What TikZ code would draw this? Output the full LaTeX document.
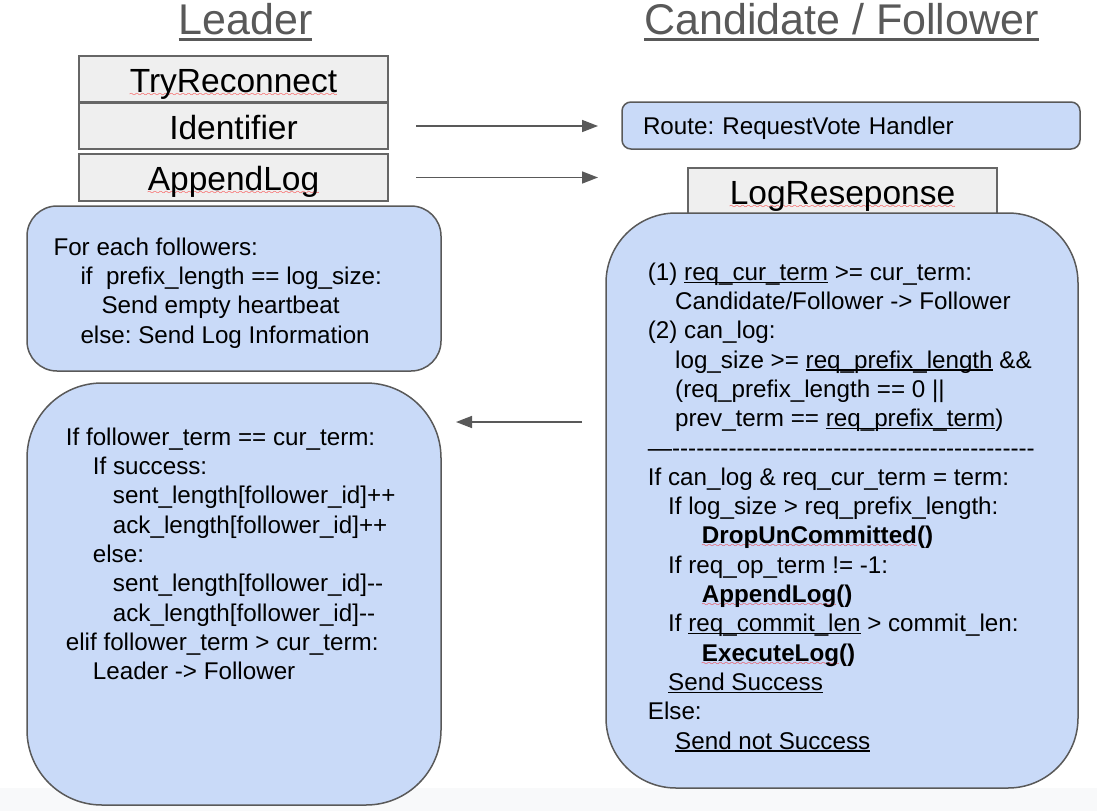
\documentclass[tikz,border=0pt]{standalone}
\usepackage{fontspec}
\setmainfont{Liberation Sans}
\usepackage{tikz}
\usetikzlibrary{arrows.meta}
\definecolor{boxblue}{HTML}{C9DAF8}
\definecolor{boxedge}{HTML}{595959}
\definecolor{fngray}{HTML}{EFEFEF}
\definecolor{fnedge}{HTML}{666666}
\definecolor{headgray}{HTML}{595959}
\definecolor{bandgray}{HTML}{F8F9FA}
\definecolor{wavered}{HTML}{FF0000}
\font\wavefont=lasy8
\frenchspacing
\newsavebox\ulbox
\newcommand\undl[1]{\sbox\ulbox{#1}\rlap{\rule[-2.5pt]{\wd\ulbox}{1.2pt}}\usebox\ulbox}
\newcommand\headul[1]{\sbox\ulbox{#1}\rlap{\rule[-7pt]{\wd\ulbox}{3pt}}\usebox\ulbox}
\newcommand\redwave[1]{\sbox\ulbox{#1}\rlap{\textcolor{wavered}{\lower4pt\hbox to \wd\ulbox{\xleaders\hbox{\wavefont\char58}\hfil}}}\usebox\ulbox}
\tikzset{fnbox/.style={rectangle,draw=fnedge,fill=fngray,line width=1.5pt,outer sep=0pt,inner sep=0pt,minimum width=309pt,minimum height=46pt,text height=26pt,text depth=0pt,font=\fontsize{33.5}{40}\selectfont},
rbox/.style={rectangle,draw=boxedge,fill=boxblue,line width=1.5pt,outer sep=0pt,inner sep=0pt},
codetxt/.style={anchor=north west,inner sep=0pt,align=left,font=\fontsize{24.2}{29.3}\selectfont},
head/.style={anchor=base,text=headgray,font=\fontsize{43}{50}\selectfont},
flow/.style={draw=boxedge,line width=1.6pt}}

\begin{document}
\begin{tikzpicture}[x=1pt,y=-1pt,>={Triangle[length=16pt,width=12pt]}]
    \useasboundingbox (0,0) rectangle (1097,811);
    \fill[bandgray] (0,788) rectangle (1097,811);

    \node[head] (leadhd) at (245.5,34) {\headul{Leader}};
    \node[head] (follhd) at (841.5,34) {\headul{Candidate / Follower}};

    % leader side
    \node[fnbox] (tryrc) at (233.5,79) {\redwave{TryReconnect}};
    \node[fnbox] (idf) at (233.5,126) {Identifier};
    \node[fnbox,minimum height=47pt] (apl) at (233.5,177.5) {\redwave{AppendLog}};
    \node[rbox,rounded corners=30pt,minimum width=414pt,minimum height=165pt] (ltop) at (234,288.5) {};
    \node[rbox,rounded corners=75pt,minimum width=414pt,minimum height=422pt] (lbot) at (234,594) {};

    % follower side
    \node[rbox,rounded corners=9pt,minimum width=458pt,minimum height=47pt,text width=416pt,align=left,text height=17pt,text depth=0pt,font=\fontsize{24.2}{29.3}\selectfont] (route) at (851,125.5) {Route: RequestVote Handler};
    \node[fnbox] (logres) at (842.5,191) {\redwave{LogReseponse}};
    \node[rbox,rounded corners=70pt,minimum width=472pt,minimum height=575pt] (rbig) at (842,500.5) {};

    \node[codetxt] (bcast) at (53.3,234.5) {\strut For each followers:\\
        \hspace*{27pt}if\ \ prefix\_length == log\_size:\\
        \hspace*{48pt}Send empty heartbeat\\
        \hspace*{27pt}else: Send Log Information};

    \node[codetxt] (acktxt) at (65.7,424.5) {\strut If follower\_term == cur\_term:\\
        \hspace*{27pt}If success:\\
        \hspace*{47pt}sent\_length[follower\_id]++\\
        \hspace*{47pt}ack\_length[follower\_id]++\\
        \hspace*{27pt}else:\\
        \hspace*{47pt}sent\_length[follower\_id]-{}-\\
        \hspace*{47pt}ack\_length[follower\_id]-{}-\\
        elif follower\_term > cur\_term:\\
        \hspace*{27pt}Leader -> Follower};

    \node[codetxt] (logtxt) at (647.7,259.5) {\strut(1) \undl{req\_cur\_term} >= cur\_term:\\
        \hspace*{27.3pt}Candidate/Follower -> Follower\\
        (2) can\_log:\\
        \hspace*{27.3pt}log\_size >= \undl{req\_prefix\_length} \&\&\\
        \hspace*{27.3pt}(req\_prefix\_length == 0 ||\\
        \hspace*{27.3pt}prev\_term == \undl{req\_prefix\_term})\\
        —\foreach\k in {1,...,45}{-}\\
        If can\_log \& req\_cur\_term = term:\\
        \hspace*{20.3pt}If log\_size > req\_prefix\_length:\\
        \hspace*{54pt}\textbf{\redwave{DropUnCommitted}()}\\
        \hspace*{20.3pt}If req\_op\_term != -1:\\
        \hspace*{54pt}\textbf{\redwave{AppendLog}()}\\
        \hspace*{20.3pt}If \undl{req\_commit\_len} > commit\_len:\\
        \hspace*{54pt}\textbf{\redwave{ExecuteLog}()}\\
        \hspace*{20.3pt}\undl{Send Success}\\
        Else:\\
        \hspace*{27.3pt}\undl{Send not Success}};

    % messages
    \coordinate (backY) at (520,422);
    \draw[->,flow,shorten <=28pt,shorten >=24pt] (idf.east) -- (idf.east -| route.west);
    \draw[->,flow,shorten <=28pt,shorten >=8pt] (apl.east) -- (apl.east -| rbig.west);
    \draw[->,flow,shorten <=24pt,shorten >=15pt] (backY -| rbig.west) -- (backY -| lbot.east);
\end{tikzpicture}
\end{document}
